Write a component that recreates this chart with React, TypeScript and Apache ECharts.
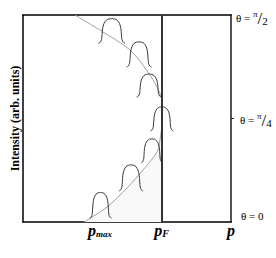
import { useEffect, useRef } from "react";
import * as echarts from "echarts";

// Circle-like trace of the peak positions: momentum p vs angle theta (degrees)
const curveP = [0.375, 0.577, 0.772, 0.901, 0.966, 1.002, 1.006, 1.002, 0.988, 0.966, 0.865, 0.75, 0.606, 0.44];
const curveTheta = [90, 82.6, 74.8, 65.2, 58.7, 53.0, 47.8, 42.2, 35.7, 30.4, 22.6, 14.8, 6.5, 0];

// Seven bell-shaped intensity peaks: centre p, base theta, height (theta units), half width (p units)
const peakCenter = [0.64, 0.837, 0.909, 1.002, 0.93, 0.779, 0.559];
const peakBase = [77.7, 67.4, 54.3, 39.6, 25.7, 13.5, 1.7];
const peakHeight = [10.7, 10.9, 10.0, 10.4, 10.4, 11.3, 11.1];
const peakHalfWidth = [0.097, 0.09, 0.09, 0.083, 0.079, 0.087, 0.079];

// Normalised outline of one peak
const bellX = [-1, -0.86, -0.76, -0.72, -0.68, -0.58, -0.42, -0.22, 0, 0.22, 0.42, 0.58, 0.68, 0.72, 0.76, 0.86, 1];
const bellY = [0, 0.04, 0.15, 0.35, 0.6, 0.8, 0.93, 0.99, 1, 0.99, 0.93, 0.8, 0.6, 0.35, 0.15, 0.04, 0];

const fermiP = 1;
const xLabelValues = [0.555, 1, 1.5];
const xLabelSubs = ["max", "F", ""];
const thetaValues = [0, 45, 90];
const thetaDenoms = ["", "4", "2"];
const thetaTick = [45];

const serif = "'Liberation Serif', 'Times New Roman', serif";

export default function App() {
  const ref = useRef<HTMLDivElement>(null);
  useEffect(() => {
    if (!ref.current) return;
    const chart = echarts.init(ref.current, null, { renderer: "svg" });
    const curve = curveP.map((p, i) => [p, curveTheta[i]]);
    const lower = curve.filter((d) => d[1] <= 48);
    const peaks = peakCenter.map((c, i) => [c, peakBase[i], peakHeight[i], peakHalfWidth[i]]);

    const axisBase = {
      splitLine: { show: false },
      axisTick: { show: false },
    };

    chart.setOption({
      animation: false,
      backgroundColor: "#fff",
      grid: { left: 23, right: 45, top: 15, bottom: 36 },
      xAxis: [
        {
          ...axisBase,
          type: "value",
          min: 0,
          max: 1.5,
          position: "bottom",
          axisLine: { show: true, onZero: false, lineStyle: { color: "#000", width: 1.5 } },
          axisLabel: {
            customValues: xLabelValues,
            margin: 0,
            formatter: (v: number) => {
              const i = xLabelValues.findIndex((x) => Math.abs(x - v) < 1e-6);
              const sub = i >= 0 ? xLabelSubs[i] : "";
              if (sub === "max") return "{p|p}{sm|max}";
              if (sub === "F") return "{p|p}{sf|F}";
              return "{p|p}";
            },
            rich: {
              p: { fontFamily: serif, fontWeight: "bold", fontStyle: "italic", fontSize: 16, lineHeight: 16, color: "#000" },
              sm: { fontFamily: serif, fontWeight: "bold", fontStyle: "italic", fontSize: 9, lineHeight: 9, verticalAlign: "bottom", color: "#000" },
              sf: { fontFamily: serif, fontWeight: "bold", fontStyle: "italic", fontSize: 10, lineHeight: 10, verticalAlign: "bottom", color: "#000" },
            },
          },
        },
        {
          ...axisBase,
          type: "value",
          min: 0,
          max: 1.5,
          position: "top",
          axisLine: { show: true, onZero: false, lineStyle: { color: "#000", width: 1.5 } },
          axisLabel: { show: false },
        },
      ],
      yAxis: [
        {
          ...axisBase,
          type: "value",
          min: 0,
          max: 90,
          position: "left",
          name: "Intensity (arb. units)",
          nameLocation: "middle",
          nameRotate: 90,
          nameGap: 2,
          nameTextStyle: { fontFamily: serif, fontWeight: "bold", fontSize: 12, color: "#000" },
          axisLine: { show: true, onZero: false, lineStyle: { color: "#000", width: 1.5 } },
          axisLabel: { show: false },
        },
        {
          type: "value",
          min: 0,
          max: 90,
          position: "right",
          splitLine: { show: false },
          axisLine: { show: true, onZero: false, lineStyle: { color: "#555", width: 2 } },
          axisTick: { show: true, customValues: thetaTick, length: 3, lineStyle: { color: "#222", width: 1 } },
          axisLabel: {
            customValues: thetaValues,
            margin: 5,
            formatter: (v: number) => {
              const i = thetaValues.indexOf(v);
              const d = thetaDenoms[i];
              if (!d) return "{z|θ = 0}\n{g3| }";
              if (v === 90) return "{g| }\n{t|θ = }{pi|π}{sl|/}{d|" + d + "}";
              return "{g2| }\n{t4|θ = }{pi|π}{sl|/}{d|" + d + "}";
            },
            rich: {
              g: { fontSize: 1, lineHeight: 6 },
              g2: { fontSize: 1, lineHeight: 3 },
              g3: { fontSize: 1, lineHeight: 12 },
              z: { fontFamily: serif, fontSize: 11, lineHeight: 12, color: "#000", padding: [0, 0, 0, 5] },
              t: { fontFamily: serif, fontSize: 11, lineHeight: 12, color: "#000" },
              t4: { fontFamily: serif, fontSize: 11, lineHeight: 12, color: "#000", padding: [0, 0, 0, 4] },
              pi: { fontFamily: serif, fontSize: 9, lineHeight: 9, verticalAlign: "top", color: "#000" },
              sl: { fontFamily: serif, fontSize: 17, lineHeight: 17, color: "#000" },
              d: { fontFamily: serif, fontSize: 11, lineHeight: 11, verticalAlign: "bottom", color: "#000" },
            },
          },
        },
      ],
      series: [
        {
          type: "line",
          data: lower,
          smooth: 0.3,
          symbol: "none",
          silent: true,
          z: 1,
          lineStyle: { width: 0, opacity: 0 },
          areaStyle: { color: "#f9f9f9", opacity: 1 },
        },
        {
          type: "line",
          data: curve,
          smooth: 0.3,
          symbol: "none",
          silent: true,
          z: 2,
          lineStyle: { color: "#a0a0a0", width: 1 },
          markLine: {
            silent: true,
            symbol: ["none", "none"],
            label: { show: false },
            lineStyle: { color: "#333", width: 2, type: "solid" },
            data: [{ xAxis: fermiP }],
          },
        },
        {
          type: "custom",
          z: 3,
          silent: true,
          data: peaks,
          encode: { x: 0, y: 1 },
          renderItem: (_params: any, api: any) => {
            const c = api.value(0);
            const b = api.value(1);
            const h = api.value(2);
            const w = api.value(3);
            const pts = bellX.map((dx, i) => api.coord([c + dx * w, b + bellY[i] * h]));
            return {
              type: "polyline",
              shape: { points: pts, smooth: 0.3 },
              style: { stroke: "#3a3a3a", lineWidth: 1, fill: null },
            };
          },
        },
      ],
    });
    return () => chart.dispose();
  }, []);
  return <div ref={ref} style={{ position: "fixed", left: 0, top: 0, width: 276, height: 258, background: "#fff" }} />;
}
